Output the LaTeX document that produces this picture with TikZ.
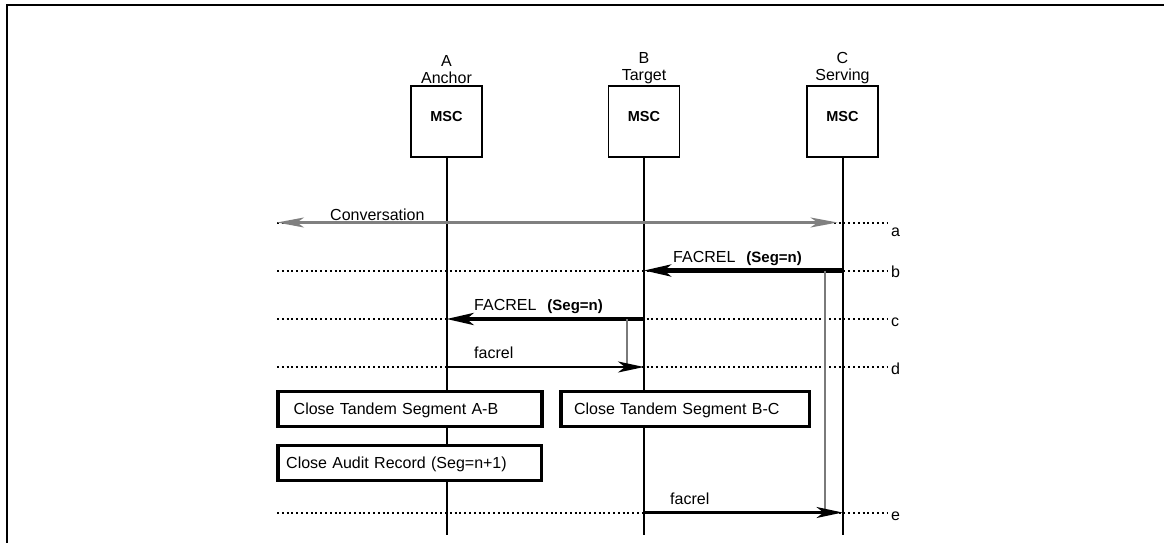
\documentclass[tikz,border=0pt]{standalone}
\usepackage{fontspec}
\setmainfont{Liberation Sans}
\usetikzlibrary{arrows.meta,positioning}
\definecolor{ConvGray}{HTML}{808080}
\definecolor{HoldGray}{HTML}{7A7A7A}
\newcommand\segn{{\fontsize{15}{18}\selectfont\bfseries (Seg=n)}}
\tikzset{
  HD/.style={rectangle,draw,line width=1.8pt,
             minimum width=71pt,minimum height=71pt,inner sep=0pt,
             font=\fontsize{14.5}{16}\selectfont\bfseries,text depth=11pt},
  TB/.style={rectangle,draw,fill=white,line width=3.6pt,
             minimum height=35pt,inner sep=0pt,text depth=0pt,align=left,
             font=\fontsize{16}{19}\selectfont},
  txt/.style={font=\fontsize{16}{17}\selectfont,inner sep=0pt},
  mt/.style={txt,anchor=base west},
  life/.style={line width=2pt},
  dotrow/.style={line width=2pt,dash pattern=on 2pt off 2.8pt},
  fat/.style={-{Stealth[length=27pt,width=12pt,inset=7pt]},line width=4.2pt},
  slim/.style={-{Stealth[length=26pt,width=11pt,inset=7pt]},line width=2.2pt},
  conv/.style={{Stealth[length=27pt,width=10pt,inset=7pt]}-{Stealth[length=27pt,width=10pt,inset=7pt]},
               ConvGray,line width=2.2pt},
  hold/.style={HoldGray,line width=2pt}
}
\begin{document}
\begin{tikzpicture}[x=1pt,y=-1pt]
  \useasboundingbox (0,0) rectangle (1164,543);
  \clip (0,0) rectangle (1164,543);
  \draw[line width=2.6pt] (7,560) |- (1180,5);

  % the three switches
  \node[HD] (A) at (446.5,121.5) {MSC};
  \node[HD] (B) at (644,121.5) {MSC};
  \node[HD] (C) at (842.5,121.5) {MSC};
  \node[txt,align=center,above=1pt of A] (tA) {A\\Anchor};
  \node[txt,align=center,above=1pt of B] (tB) {B\\Target};
  \node[txt,align=center,above=1pt of C] (tC) {C\\Serving};

  % time rows
  \foreach \r/\y/\dy in {a/222.5/13.5,b/270.5/7,c/319/7.5,d/367/7.5,e/512.5/7.5}{
    \coordinate (\r0) at (277,\y);
    \coordinate (\r1) at (887,\y);
    \draw[dotrow] (\r0) -- (\r1);
    \node[mt] (l\r) at (891,\y+\dy) {\r};
  }
  \coordinate (bot) at (0,535);
  \coordinate (hB) at (627,0);
  \coordinate (hC) at (825,0);

  \draw[life] (A.south) -- (A |- bot);
  \draw[life] (B.south) -- (B |- bot);
  \draw[life] (C.south) -- (C |- bot);

  % messages
  \draw[conv,shorten >=5pt] (a0) -- (C |- a0);
  \node[mt] (tConv) at (330,220) {Conversation};

  \draw[fat] (C |- b0) -- (B |- b0);
  \node[mt,xshift=29pt,yshift=8pt] (tFb) at (B |- b0) {FACREL\hspace{11pt}\segn};
  \draw[hold] (hC |- b0) -- (hC |- e0);

  \draw[fat] (B |- c0) -- (A |- c0);
  \node[mt,xshift=27.5pt,yshift=8.3pt] (tFc) at (A |- c0) {FACREL\hspace{11pt}\segn};
  \draw[hold] (hB |- c0) -- (hB |- d0);

  \draw[slim] (A |- d0) -- (B |- d0);
  \node[mt,xshift=27.5pt,yshift=8.7pt] (tfd) at (A |- d0) {facrel};

  % segment actions
  \node[TB,text width=232pt,inner xsep=16pt] (segAB) at (409.7,409) {Close Tandem Segment A-B};
  \node[TB,text width=222pt,inner xsep=13.3pt] (segBC) at (685,409) {Close Tandem Segment B-C};
  \node[TB,text width=247pt,inner xsep=8.3pt] (audit) at (409.7,462.8) {Close Audit Record (Seg=n+1)};

  \draw[slim] (B |- e0) -- (C |- e0);
  \node[mt,xshift=26pt,yshift=8pt] (tfe) at (B |- e0) {facrel};
\end{tikzpicture}
\end{document}
